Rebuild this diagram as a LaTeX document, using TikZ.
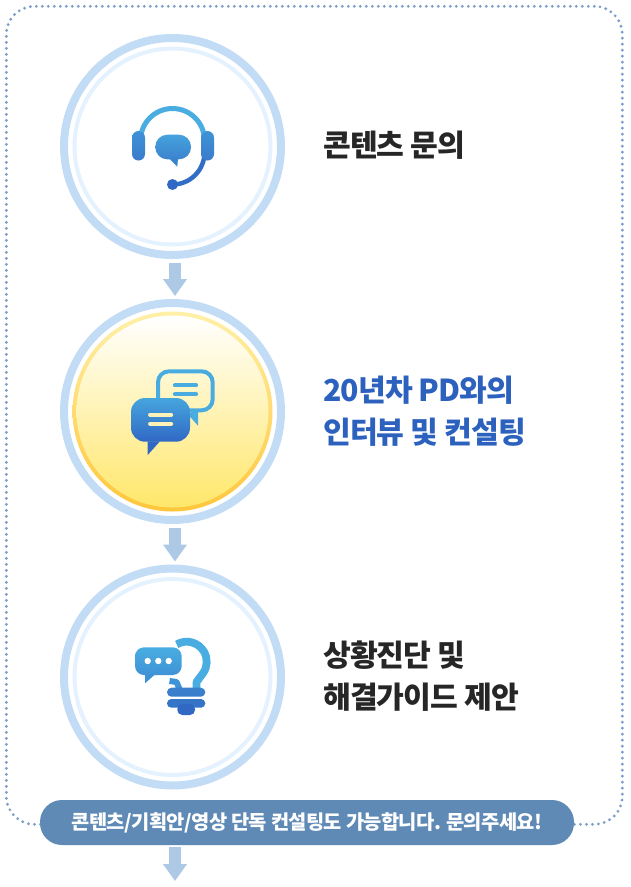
\documentclass[tikz,border=0pt]{standalone}
\usepackage{fontspec}
\setmainfont{Noto Sans CJK KR}
\newfontfamily\krtight[LetterSpace=-3]{Noto Sans CJK KR}
\usepackage{xcolor}
\usetikzlibrary{arrows.meta}
\definecolor{ringblue}{HTML}{C2DCF5}
\definecolor{ringpale}{HTML}{E4F1FF}
\definecolor{flowblue}{HTML}{AEC9E6}
\definecolor{dotblue}{HTML}{7F9FC8}
\definecolor{pillblue}{HTML}{5F8AB5}
\definecolor{titleblue}{HTML}{2C62BE}
\definecolor{titledark}{HTML}{262626}
\definecolor{icontop}{HTML}{4BB2E3}
\definecolor{iconmid}{HTML}{3F92D6}
\definecolor{iconlow}{HTML}{3A7CCB}
\definecolor{iconbot}{HTML}{3068C4}
\definecolor{cream}{HTML}{FFF2B8}
\definecolor{edgetop}{HTML}{FFF0A8}
\definecolor{edgebot}{HTML}{FFC63B}
\definecolor{sunbot}{HTML}{FFE76A}
\tikzset{
    ring/.style = {circle, draw=ringblue, line width=8pt, minimum size=217pt, inner sep=0pt},
    glow/.style = {circle, draw=ringpale, line width=4pt, minimum size=196pt, inner sep=0pt},
    title/.style = {anchor=west, align=left, inner sep=0pt, font=\krtight\bfseries\fontsize{30.2}{42}\selectfont},
    flow/.style = {line width=11.5pt, draw=flowblue, -{Triangle[length=17pt,width=23pt]}},
    headset/.pic = {
    \draw[line width=5pt, draw=icontop!85!iconmid] (-32,-6) arc[start angle=180, end angle=360, radius=32];
    \draw[line width=4.5pt, draw=iconbot!70!iconlow] (32,6) arc[start angle=0, end angle=90, radius=32];
    \fill[iconbot] (0,38) circle (5.5);
    \shade[top color=iconmid, bottom color=iconlow, rounded corners=6.5] (-40.5,-15.5) rectangle (-27.5,14);
    \shade[top color=iconmid, bottom color=iconlow, rounded corners=6.5] (28.5,-15.5) rectangle (41.5,14);
    \shade[top color=icontop!50!iconmid, bottom color=iconlow!70!iconmid, rounded corners=12] (-17.2,-11.8) rectangle (18.5,12.8);
    \fill[iconlow!70!iconmid] (-3.2,12) -- (5.5,12) -- (4.8,20.2) -- cycle;
    },
    chats/.pic = {
    \draw[line width=4pt, draw=icontop!80!iconmid, rounded corners=11] (-14.5,-40.2) rectangle (40.2,-1.2);
    \fill[icontop!80!iconmid] (25.5,-2) -- (25.5,14.2) -- (16,3.5) -- (21,-2) -- cycle;
    \draw[line width=4.3pt, line cap=round, draw=icontop!80!iconmid] (2.5,-26.3) -- (23.5,-26.3);
    \draw[line width=4.3pt, line cap=round, draw=icontop!80!iconmid] (2.5,-17.3) -- (23.5,-17.3);
    \shade[top color=icontop!60!iconmid, bottom color=iconbot, rounded corners=14] (-41.5,-13.5) rectangle (17.5,30.2);
    \fill[iconbot] (-24.8,29.8) -- (-12.5,29.8) -- (-24.8,43.5) -- cycle;
    \draw[line width=4.3pt, line cap=round, draw=cream] (-22.3,3.2) -- (-1.5,3.2);
    \draw[line width=4.3pt, line cap=round, draw=cream] (-22.3,12.2) -- (-1.5,12.2);
    },
    bulb/.pic = {
    \draw[line width=7.8pt, line join=round, draw=icontop!85!iconmid] (14.2,-15.3) ++(240:20) arc[start angle=240, end angle=395, radius=20] -- (24,5) -- (24,12);
    \draw[line width=6pt, line join=round, draw=iconmid] (-3,4) -- (4,5) -- (7,12);
    \shade[top color=iconlow!80!iconmid, bottom color=iconlow, rounded corners=4.5] (-5.5,10.7) rectangle (32.8,19.7);
    \fill[iconlow!60!iconbot, rounded corners=4.3] (-5.5,22) rectangle (32.8,30.7);
    \fill[iconbot, rounded corners=5] (4.8,27) rectangle (22.5,38);
    \shade[top color=icontop!85!iconmid, bottom color=iconmid, rounded corners=9] (-37.5,-29.7) rectangle (9.2,-2);
    \fill[iconmid] (-27.5,-2.5) -- (-17.5,-2.5) -- (-27.5,6.3) -- cycle;
    \fill[white] (-24.8,-16) circle (3.2);
    \fill[white] (-14.2,-16) circle (3.2);
    \fill[white] (-3.8,-16) circle (3.2);
    }
}

\begin{document}
\begin{tikzpicture}[x=1pt, y=1pt, yscale=-1, line cap=butt]
\useasboundingbox (0,0) rectangle (630,887);
\node (frame) [draw=dotblue, line width=3.2pt, line cap=round, dash pattern=on 0pt off 6pt, rounded corners=28pt, minimum width=616pt, minimum height=818pt, inner sep=0pt] at (314.3,415.3) {};

\node (ring1) [ring] at (172.5,146.5) {};
\node (glow1) [glow] at (ring1.center) {};
\node (ring2) [ring] at (172.5,411.5) {};
\node (edge2) [circle, minimum size=200pt, inner sep=0pt, top color=edgetop, bottom color=edgebot] at (ring2.center) {};
\node (glow2) [circle, minimum size=192pt, inner sep=0pt, top color=white, bottom color=sunbot] at (ring2.center) {};
\node (ring3) [ring] at (172.5,677) {};
\node (glow3) [glow] at (ring3.center) {};

\path (ring1.center) pic[transform shape] {headset};
\path (ring2.center) pic[transform shape] {chats};
\path (ring3.center) pic[transform shape] {bulb};

\node (label1) [title, text=titledark] at (323,145) {콘텐츠 문의};
\node (label2) [title, text=titleblue] at (323,411) {20년차 PD와의\\인터뷰 및 컨설팅};
\node (label3) [title, text=titledark] at (323,676) {상황진단 및\\해결가이드 제안};

\node (pill) [fill=pillblue, rounded corners=22pt, minimum width=534pt, minimum height=45pt, inner sep=0pt, text=white, font=\krtight\bfseries\fontsize{19.8}{22}\selectfont] at (307,822.5) {콘텐츠/기획안/영상 단독 컨설팅도 가능합니다. 문의주세요!};
\coordinate (exit) at (175,881);

\draw[flow, shorten <=4pt, shorten >=3pt] ([xshift=2.5pt]ring1.south) -- ([xshift=2.5pt]ring2.north);
\draw[flow, shorten <=4pt, shorten >=3pt] ([xshift=2.5pt]ring2.south) -- ([xshift=2.5pt]ring3.north);
\draw[flow, shorten <=2pt] (pill.south -| exit) -- (exit);
\end{tikzpicture}
\end{document}
